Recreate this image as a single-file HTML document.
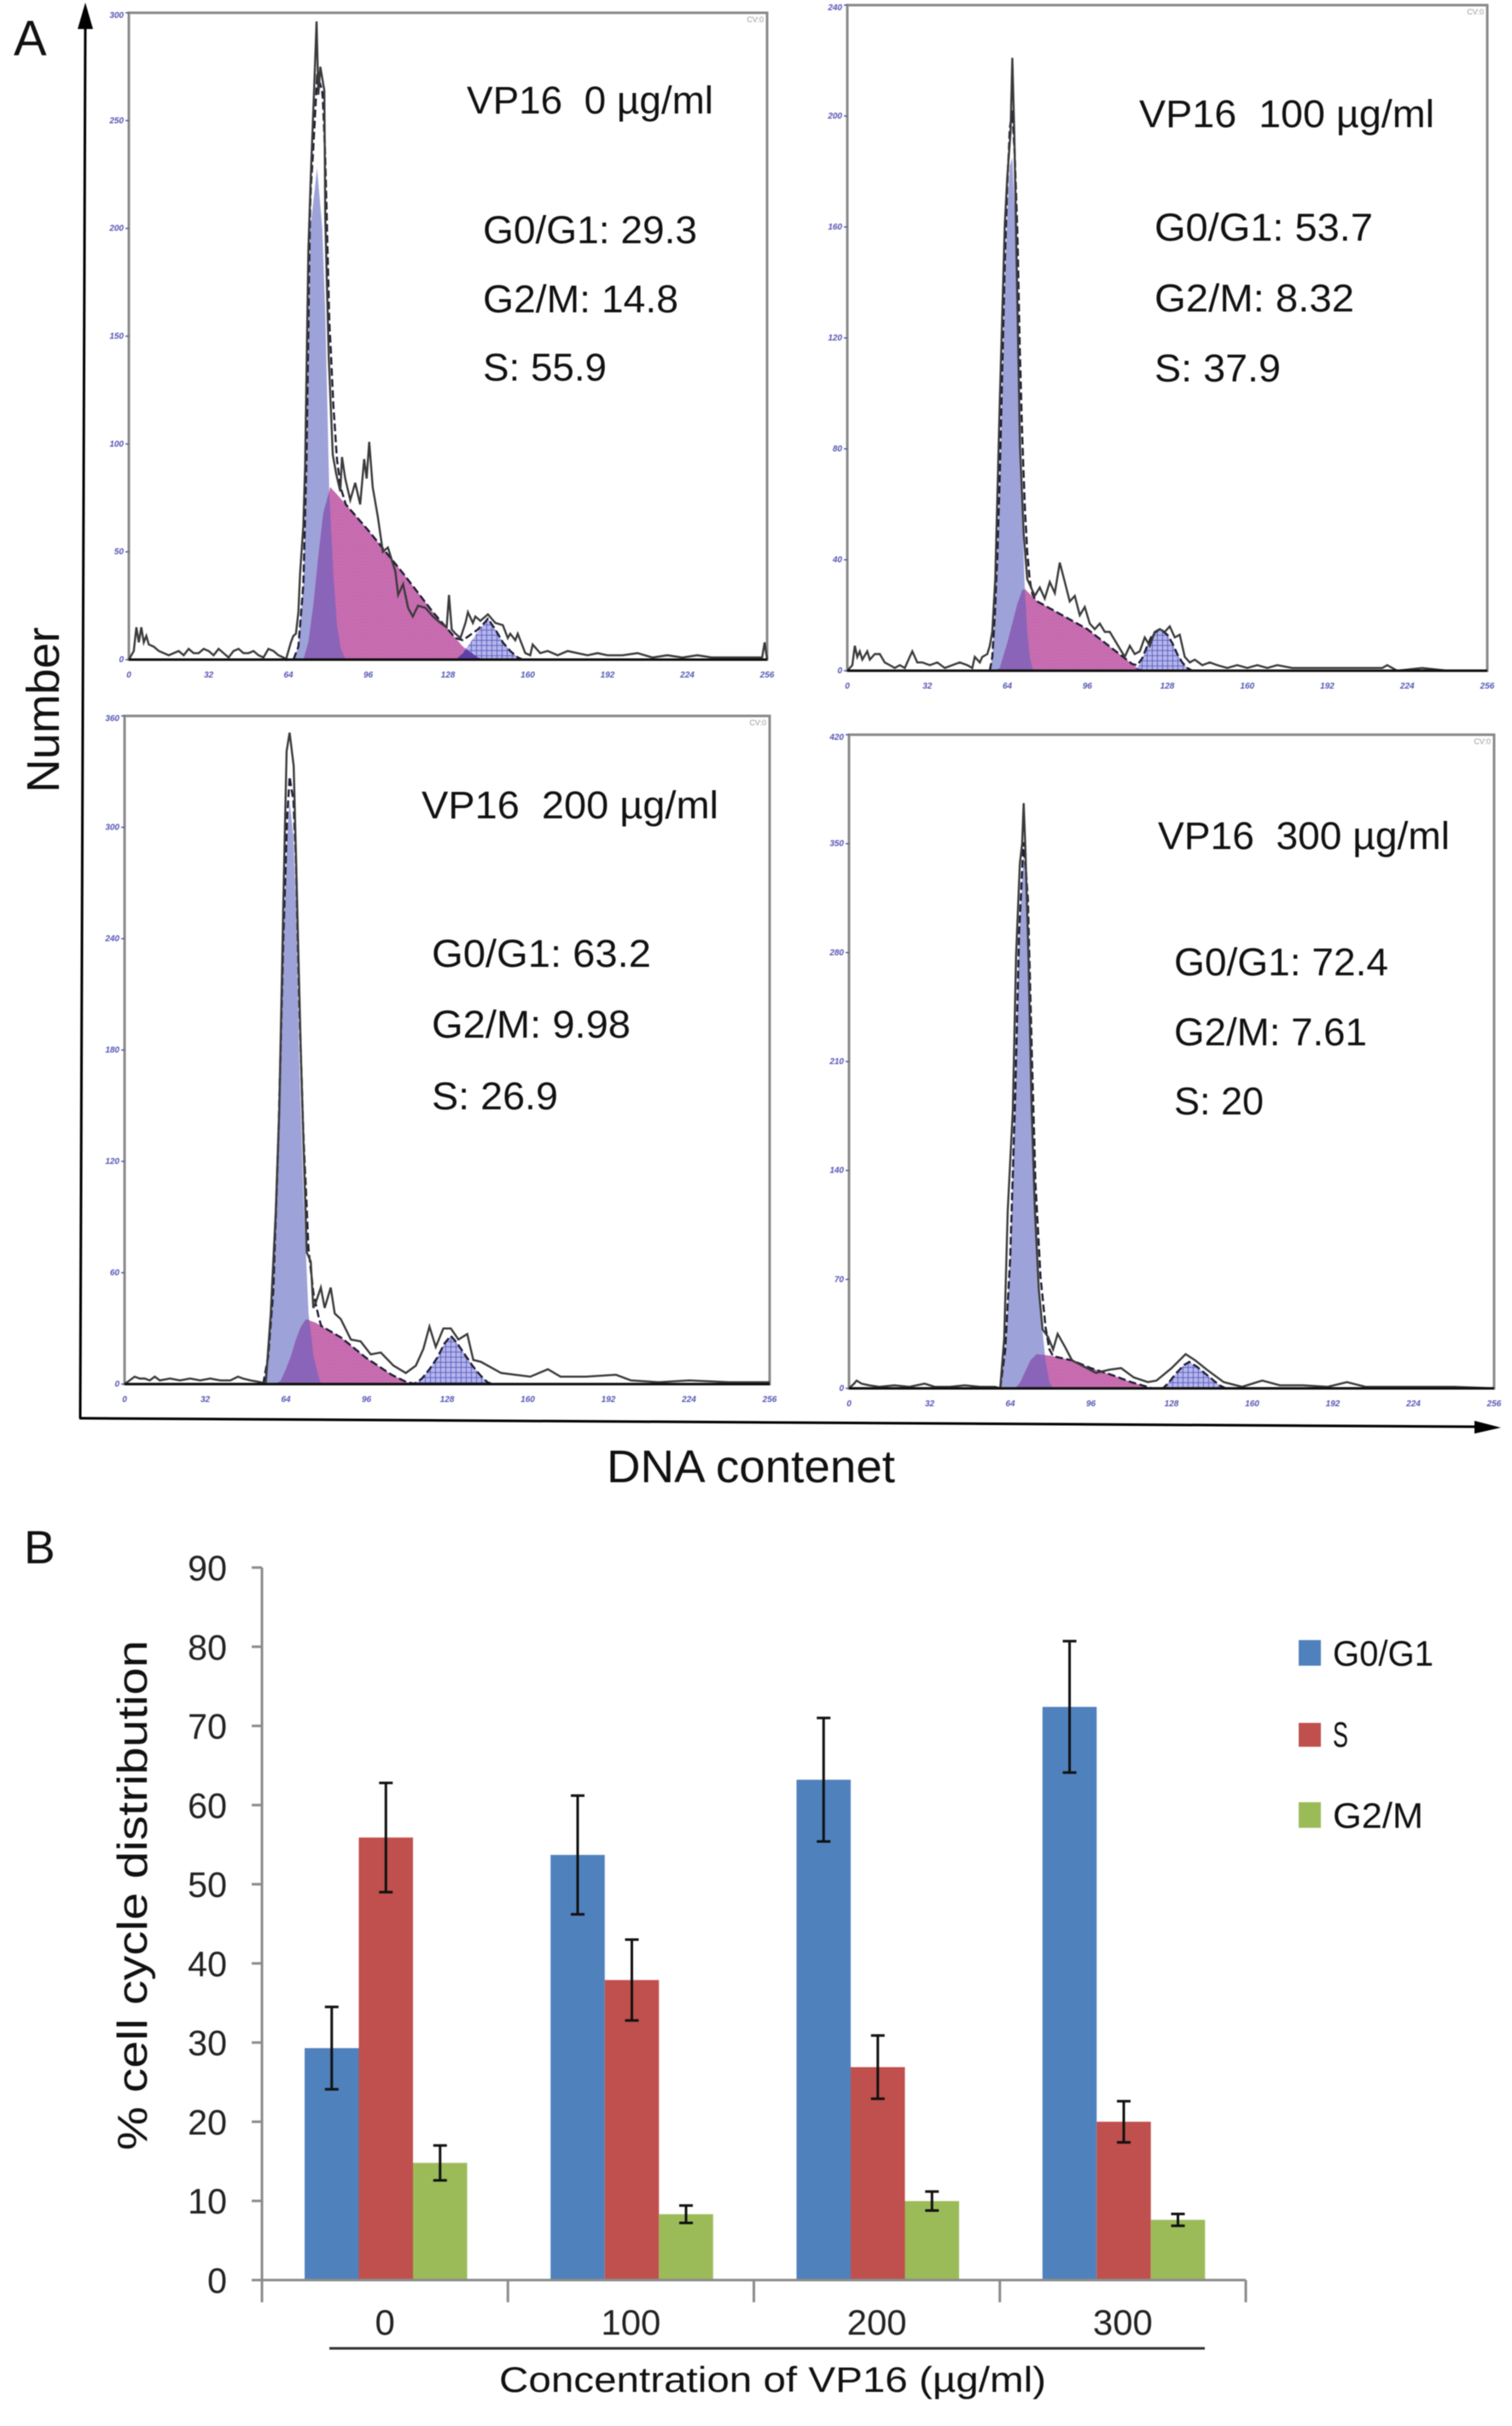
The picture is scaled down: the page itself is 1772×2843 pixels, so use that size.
<!DOCTYPE html>
<html lang="en">
<head>
<meta charset="utf-8">
<title>VP16 cell cycle distribution</title>
<style>
html,body{margin:0;padding:0;background:#fff;width:1772px;height:2843px;overflow:hidden}
svg{display:block;filter:blur(0.6px)}
text{font-family:"Liberation Sans",sans-serif;fill:#111}
</style>
</head>
<body>
<svg id="figure" xmlns="http://www.w3.org/2000/svg" width="1772" height="2843" viewBox="0 0 1772 2843">
<defs>
<pattern id="hatch-s" width="4" height="4" patternUnits="userSpaceOnUse"><rect width="4" height="4" fill="#cc72b4"/><path d="M0 4L4 0" stroke="#bd5fa6" stroke-width="1"/></pattern>
<pattern id="hatch-g2" width="6" height="6" patternUnits="userSpaceOnUse"><rect width="6" height="6" fill="#b4b6ec"/><path d="M0 0H6M0 0V6" stroke="#4f4fb8" stroke-width="1.6"/></pattern>
</defs>
<rect width="1772" height="2843" fill="#fff"/>

<text x="16" y="65" font-size="58">A</text>
<text x="28" y="1832" font-size="55">B</text>

<g>
<line x1="100" y1="20" x2="94" y2="1662" stroke="#000" stroke-width="3"/>
<polygon points="100,3 91,34 109,34" fill="#000"/>
<line x1="93" y1="1662" x2="1735" y2="1672" stroke="#000" stroke-width="3"/>
<polygon points="1759,1673 1728,1665 1728,1680" fill="#000"/>
<text transform="translate(69 929) rotate(-90)" font-size="54" textLength="194" lengthAdjust="spacingAndGlyphs">Number</text>
<text x="711" y="1737" font-size="54" textLength="338" lengthAdjust="spacingAndGlyphs">DNA contenet</text>
</g>

<g id="histograms"></g>

<g>
<text x="547" y="133" font-size="45" xml:space="preserve" textLength="289" lengthAdjust="spacingAndGlyphs">VP16  0 µg/ml</text>
<text x="566" y="285" font-size="45" textLength="251" lengthAdjust="spacingAndGlyphs">G0/G1: 29.3</text>
<text x="566" y="366" font-size="45" textLength="229" lengthAdjust="spacingAndGlyphs">G2/M: 14.8</text>
<text x="566" y="446" font-size="45" textLength="145" lengthAdjust="spacingAndGlyphs">S: 55.9</text>
</g>
<g>
<text x="1335" y="149" font-size="45" xml:space="preserve" textLength="346" lengthAdjust="spacingAndGlyphs">VP16  100 µg/ml</text>
<text x="1353" y="282" font-size="45" textLength="256" lengthAdjust="spacingAndGlyphs">G0/G1: 53.7</text>
<text x="1353" y="365" font-size="45" textLength="234" lengthAdjust="spacingAndGlyphs">G2/M: 8.32</text>
<text x="1353" y="447" font-size="45" textLength="148" lengthAdjust="spacingAndGlyphs">S: 37.9</text>
</g>
<g>
<text x="494" y="959" font-size="45" xml:space="preserve" textLength="348" lengthAdjust="spacingAndGlyphs">VP16  200 µg/ml</text>
<text x="506" y="1133" font-size="45" textLength="257" lengthAdjust="spacingAndGlyphs">G0/G1: 63.2</text>
<text x="506" y="1216" font-size="45" textLength="233" lengthAdjust="spacingAndGlyphs">G2/M: 9.98</text>
<text x="506" y="1300" font-size="45" textLength="148" lengthAdjust="spacingAndGlyphs">S: 26.9</text>
</g>
<g>
<text x="1357" y="995" font-size="45" xml:space="preserve" textLength="342" lengthAdjust="spacingAndGlyphs">VP16  300 µg/ml</text>
<text x="1376" y="1143" font-size="45" textLength="251" lengthAdjust="spacingAndGlyphs">G0/G1: 72.4</text>
<text x="1376" y="1225" font-size="45" textLength="226" lengthAdjust="spacingAndGlyphs">G2/M: 7.61</text>
<text x="1376" y="1306" font-size="45" textLength="105" lengthAdjust="spacingAndGlyphs">S: 20</text>
</g>

<g id="bar-chart"></g>

<text transform="translate(172 2520) rotate(-90)" font-size="49" fill="#222" textLength="598" lengthAdjust="spacingAndGlyphs">% cell cycle distribution</text>
<line x1="386" y1="2752" x2="1412" y2="2752" stroke="#333" stroke-width="3"/>
<text x="585" y="2803" font-size="42" textLength="641" lengthAdjust="spacingAndGlyphs">Concentration of VP16 (µg/ml)</text>

<g>
<rect x="1522" y="1922" width="26" height="30" fill="#4f81bd"/>
<text x="1562" y="1952" font-size="42" fill="#333" textLength="118" lengthAdjust="spacingAndGlyphs">G0/G1</text>
<rect x="1522" y="2019" width="26" height="28" fill="#c0504d"/>
<text x="1562" y="2047" font-size="42" fill="#333" textLength="18" lengthAdjust="spacingAndGlyphs">S</text>
<rect x="1522" y="2112" width="26" height="30" fill="#9bbb59"/>
<text x="1562" y="2142" font-size="42" fill="#333" textLength="106" lengthAdjust="spacingAndGlyphs">G2/M</text>
</g>
</svg>

<script>
// ---------- Histogram data: [DNA channel, cell count] ----------
const histXTicks = [0, 32, 64, 96, 128, 160, 192, 224, 256];

const p1YTicks = [0, 50, 100, 150, 200, 250, 300];
const p1Hist = [[0,0],[2,4],[3,15],[4,8],[5,15],[6,8],[7,11],[8,7],[10,6],[12,4],[14,3],[16,2],[18,3],[20,4],[22,2],[24,5],[26,3],[28,3],[30,5],[32,4],[34,2],[36,5],[38,3],[40,1],[42,4],[44,5],[46,3],[48,3],[50,4],[52,2],[54,1],[56,5],[58,4],[60,2],[62,1],[63,0],[65,8],[66,11],[67,12],[68,22],[68.7,40],[70,62],[70.7,90],[72,190],[73,225],[74.3,264],[75.3,296],[76,262],[76.8,275],[78.4,264],[78.8,205],[80.2,140],[81.8,95],[83.2,86],[84.8,78],[85.5,94],[86.8,84],[88.8,74],[90.8,82],[92.8,72],[94.4,93],[95.4,84],[96.4,101],[97.8,80],[99.9,66],[101.9,50],[103.9,52],[106.9,41],[108,30],[110,35],[112,24],[113.9,20],[116,25],[119,24],[122,20],[125,17],[127.5,15],[128.4,30],[129.5,14],[131,12],[133,10],[135,17],[136,22],[138,17],[139,20],[141,18],[144,21],[147,17],[150,16],[152,10],[153,12],[155,9],[156,12],[158,6],[159,3],[161,2],[162,7],[165,3],[168,4],[172,2],[176,4],[180,3],[184,2],[188,3],[192,2],[198,2],[204,3],[210,1],[216,2],[222,1],[228,2],[234,1],[240,1],[246,1],[252,1],[254,1],[255,8],[256,0]];
const p1G1 = [[66,0],[68,6],[70,35],[71.3,90],[72.3,170],[72.8,200],[75.5,228],[77.6,200],[78.8,161],[80.4,78],[82,40],[83.5,16],[85,5],[87,0]];
const p1S = [[70,0],[72,8],[74,25],[76,48],[78,68],[80.8,80],[84,76],[96,60],[110,40],[122,22],[134,6],[140,1],[143,0]];
const p1G2 = [[131,0],[134,3],[137,8],[140,13],[144,19],[147,14],[150,8],[153,4],[156,1],[158,0]];

const p2YTicks = [0, 40, 80, 120, 160, 200, 240];
const p2Hist = [[0,0],[2,2],[3,9],[4,5],[5,7],[6,4],[8,7],[9,4],[11,6],[13,6],[15,3],[17,2],[19,1],[21,2],[23,1],[25,5],[26,7],[28,3],[30,3],[33,2],[36,3],[39,1],[42,2],[45,3],[48,2],[50,1],[51,5],[53,3],[54,5],[56,6],[57,9],[58,14],[59.2,33],[61,97],[63,161],[64,178],[65.3,194],[66,221],[66.8,194],[67.8,145],[69.1,81],[70.6,49],[72,33],[73,31],[75,27],[77,30],[79,26],[81,32],[83,28],[85,39],[87,32],[89,25],[91,27],[93,20],[95,23],[97,17],[99,15],[101,17],[103,14],[105,14],[107,11],[109,8],[111,5],[113,9],[115,6],[117,7],[119,12],[121,9],[123,14],[125,15],[127,14],[129,16],[131,12],[133,13],[135,5],[137,3],[139,4],[142,2],[145,3],[148,2],[152,1],[156,2],[160,1],[164,2],[168,1],[172,2],[178,1],[184,1],[190,1],[200,1],[214,1],[216,2],[220,0],[230,1],[240,0],[256,0]];
const p2G1 = [[57,0],[58,5],[59,20],[60,40],[61,70],[62,105],[63,140],[64,165],[65,182],[66,185],[67,165],[68,135],[69,90],[70,55],[71,30],[72,14],[73,5],[74,1],[75,0]];
const p2S = [[59,0],[61,1],[62,4],[64,10],[66,17],[68,24],[70,29],[71,29.5],[76,25],[86,20],[96,15],[106,8],[116,1],[120,0]];
const p2G2 = [[114,0],[116,1],[118,4],[120,9],[122,13],[125,15],[128,13],[130,10],[132,6],[134,3],[136,1],[138,0]];

const p3YTicks = [0, 60, 120, 180, 240, 300, 360];
const p3Hist = [[0,0],[2,2],[4,4],[6,3],[8,3],[10,2],[12,4],[14,2],[18,3],[22,2],[26,3],[30,2],[34,3],[38,2],[42,2],[45,4],[47,3],[50,2],[54,1],[56,0],[58,38],[60,93],[61.4,148],[63,258],[64.3,341],[65.5,351],[67.1,333],[68,286],[70,176],[72.3,71],[73.9,66],[74.9,41],[75.9,44],[77.9,52],[79.4,41],[81.8,52],[83.4,38],[85.8,35],[89.8,24],[93.7,23],[97.7,16],[101.7,17],[106.7,10],[111.6,6],[115.6,10],[118.6,19],[121,31],[123.5,20],[126.5,30],[129.5,30],[132.5,24],[136,27],[138.4,13],[141.4,12],[145.4,9],[149.4,6],[155,5],[161,4],[168,8],[173,4],[183,4],[195,5],[201,2],[212,1],[224,2],[240,1],[256,1]];
const p3G1 = [[55,0],[57,15],[59,50],[61,130],[63,235],[64.5,295],[65.5,314],[67,295],[68,258],[69.3,176],[71,100],[73,38],[75,15],[77,4],[78,0]];
const p3S = [[60,0],[62,2],[64,8],[66,15],[68,24],[70,31],[72,35],[76,33],[86,25],[96,14],[106,5],[112,1],[116,0]];
const p3G2 = [[115,0],[118,3],[121,8],[124,14],[127,22],[129.5,26],[132,22],[135,16],[138,10],[141,5],[144,1],[146,0]];

const p4YTicks = [0, 70, 140, 210, 280, 350, 420];
const p4Hist = [[0,0],[2,3],[3,5],[5,3],[8,2],[12,1],[18,2],[24,1],[30,3],[34,1],[40,1],[46,2],[52,1],[58,1],[60,0],[61.6,32],[63,114],[65,179],[66.3,278],[67.8,337],[68.7,350],[69.3,376],[70,347],[71.2,278],[72.5,179],[73.8,114],[75.3,64],[76.8,38],[79,33],[81,25],[82.8,35],[85.6,27],[88.5,18],[92,15],[98,10],[103.5,12],[108,13],[113,7],[118.6,4],[122,5],[128,13],[133.6,22],[137.4,18],[142,12],[148.7,4],[156,1],[164,5],[171,2],[180,2],[190,1],[197.6,4],[205,1],[220,1],[240,1],[256,0]];
const p4G1 = [[60,0],[62,25],[64,85],[66,190],[67.5,290],[69.3,344],[71,300],[72.5,200],[74,110],[76,50],[78,18],[79.5,4],[81,0]];
const p4S = [[66,0],[68,4],[70,11],[72,18],[74.4,22],[80,21],[88.5,18],[96,13],[104.5,8.5],[112,4],[120.5,0]];
const p4G2 = [[124.6,0],[127,4],[130,10],[133,15],[135,17],[138,14],[141,10],[144,6],[147,2],[149.6,0]];

// ---------- Bar chart data ----------
const barCategories = ["0", "100", "200", "300"];
const barYTicks = [0, 10, 20, 30, 40, 50, 60, 70, 80, 90];
const g0g1Values = [29.3, 53.7, 63.2, 72.4];
const sValues = [55.9, 37.9, 26.9, 20];
const g2mValues = [14.8, 8.32, 9.98, 7.61];
const g0g1Err = [5.2, 7.5, 7.8, 8.3];
const sErr = [6.9, 5.1, 4, 2.6];
const g2mErr = [2.2, 1.1, 1.2, 0.75];

// ---------- Drawing ----------
const NS = 'http://www.w3.org/2000/svg';
function make(tag, attrs, parent, text) {
  const el = document.createElementNS(NS, tag);
  for (const k in attrs) el.setAttribute(k, attrs[k]);
  if (text !== undefined) el.textContent = text;
  parent.appendChild(el);
  return el;
}
function valueAt(curve, ch) {
  if (ch <= curve[0][0] || ch >= curve[curve.length - 1][0]) return 0;
  for (let i = 1; i < curve.length; i++) {
    if (ch <= curve[i][0]) {
      const a = curve[i - 1], b = curve[i];
      return a[1] + (b[1] - a[1]) * (ch - a[0]) / (b[0] - a[0]);
    }
  }
  return 0;
}
function polyFromCurve(curve, fx, fy) {
  if (!curve.length) return '';
  const pts = [[curve[0][0], 0]].concat(curve, [[curve[curve.length - 1][0], 0]]);
  return pts.map(p => fx(p[0]).toFixed(1) + ',' + fy(p[1]).toFixed(1)).join(' ');
}
function sampled(fn, from, to) {
  const out = [];
  for (let c = from; c <= to; c += 0.25) out.push([c, fn(c)]);
  return out;
}

function drawPanel(id, box, yMax, yTicks, hist, g1, s, g2) {
  const root = document.getElementById('histograms');
  const g = make('g', {}, root);
  
  
  const fx = ch => box.left + (box.right - box.left) * ch / 256;
  const fy = v => box.base - (box.base - box.top) * v / yMax;

  const frame = make('rect', {x: box.left, y: box.top, width: box.right - box.left, height: box.base - box.top, fill: '#fff', stroke: '#8a8a8a', 'stroke-width': 3}, g);
  
  

  const g1Poly = make('polygon', {points: polyFromCurve(g1, fx, fy), fill: '#9da3d8'}, g);
  
  

  const sPoly = make('polygon', {points: polyFromCurve(s, fx, fy), fill: 'url(#hatch-s)'}, g);
  
  

  const lap1 = sampled(c => Math.min(valueAt(g1, c), valueAt(s, c)), s[0][0], g1[g1.length - 1][0]);
  const lap1Poly = make('polygon', {points: polyFromCurve(lap1, fx, fy), fill: '#8a64b8'}, g);
  
  

  const g2Poly = make('polygon', {points: polyFromCurve(g2, fx, fy), fill: 'url(#hatch-g2)'}, g);
  
  

  const lap2 = sampled(c => Math.min(valueAt(g2, c), valueAt(s, c)), g2[0][0], s[s.length - 1][0]);
  const lap2Poly = make('polygon', {points: polyFromCurve(lap2, fx, fy), fill: '#5f3fa8'}, g);
  
  

  const fit = sampled(c => valueAt(g1, c) + valueAt(s, c) + valueAt(g2, c), g1[0][0], g2[g2.length - 1][0]);
  const fitLine = make('polyline', {points: fit.map(p => fx(p[0]).toFixed(1) + ',' + fy(p[1]).toFixed(1)).join(' '), fill: 'none', stroke: '#1d1d33', 'stroke-width': 2.4, 'stroke-dasharray': '9 4'}, g);
  
  

  const histLine = make('polyline', {points: hist.map(p => fx(p[0]).toFixed(1) + ',' + fy(p[1]).toFixed(1)).join(' '), fill: 'none', stroke: '#3a3a3a', 'stroke-width': 2.4}, g);
  
  

  const baseline = make('line', {x1: fx(0), x2: fx(256), y1: fy(0), y2: fy(0), stroke: '#111', 'stroke-width': 3}, g);
  
  

  const cv = make('text', {x: box.right - 4, y: box.top + 11, 'text-anchor': 'end', 'font-size': 9, style: 'fill:#999'}, g, 'CV:0');
  
  

  yTicks.forEach(t => {
    const tick = make('line', {x1: box.left - 4, x2: box.left, y1: fy(t), y2: fy(t), stroke: '#5555aa', 'stroke-width': 1.5}, g);
    
    
    const lab = make('text', {x: box.left - 6, y: Math.max(fy(t) + 3, box.top + 6), 'text-anchor': 'end', 'font-size': 10, 'font-style': 'italic', 'font-weight': 'bold', style: 'fill:#5555b5'}, g, String(t));
    
    
  });
  histXTicks.forEach(t => {
    const lab = make('text', {x: fx(t), y: box.base + 21, 'text-anchor': 'middle', 'font-size': 10, 'font-style': 'italic', 'font-weight': 'bold', style: 'fill:#5555b5'}, g, String(t));
    
    
  });
}

drawPanel('panel-1', {left: 151, right: 899, top: 15, base: 773}, 300, p1YTicks, p1Hist, p1G1, p1S, p1G2);
drawPanel('panel-2', {left: 993, right: 1743, top: 6, base: 786}, 240, p2YTicks, p2Hist, p2G1, p2S, p2G2);
drawPanel('panel-3', {left: 146, right: 902, top: 839, base: 1622}, 360, p3YTicks, p3Hist, p3G1, p3S, p3G2);
drawPanel('panel-4', {left: 995, right: 1751, top: 861, base: 1627}, 420, p4YTicks, p4Hist, p4G1, p4S, p4G2);

(function drawBars() {
  const root = document.getElementById('bar-chart');
  const left = 307, right = 1460, y0 = 2672, y90 = 1837;
  const bandW = (right - left) / barCategories.length;
  const barW = 63.5, pad = 50;
  const fy = v => y0 - (y0 - y90) * v / 90;
  const fx = (cat, s) => left + cat * bandW + pad + s * barW;

  const seriesNames = ['g0g1', 's', 'g2m'];
  const seriesValues = [g0g1Values, sValues, g2mValues];
  const seriesErrs = [g0g1Err, sErr, g2mErr];
  const seriesColors = ['#4f81bd', '#c0504d', '#9bbb59'];

  seriesValues.forEach((vals, s) => {
    vals.forEach((v, c) => {
      const bar = make('rect', {x: fx(c, s), y: fy(v), width: barW, height: y0 - fy(v), fill: seriesColors[s]}, root);
      
      
    });
  });
  seriesValues.forEach((vals, s) => {
    vals.forEach((v, c) => {
      const cx = fx(c, s) + barW / 2;
      const hi = fy(v + seriesErrs[s][c]), lo = fy(v - seriesErrs[s][c]);
      const err = make('path', {d: 'M' + cx + ' ' + hi + 'V' + lo + 'M' + (cx - 8) + ' ' + hi + 'H' + (cx + 8) + 'M' + (cx - 8) + ' ' + lo + 'H' + (cx + 8), fill: 'none', stroke: '#111', 'stroke-width': 3}, root);
      
      
    });
  });

  const yAxis = make('line', {x1: left, x2: left, y1: y90, y2: y0 + 26, stroke: '#8c8c8c', 'stroke-width': 3}, root);
  
  
  const xAxis = make('line', {x1: left - 12, x2: right, y1: y0, y2: y0, stroke: '#8c8c8c', 'stroke-width': 3}, root);
  
  

  barYTicks.forEach(t => {
    const tick = make('line', {x1: left - 12, x2: left, y1: fy(t), y2: fy(t), stroke: '#8c8c8c', 'stroke-width': 3}, root);
    
    
    const txt = String(t);
    const lab = make('text', {x: 266, y: fy(t) + 15, 'text-anchor': 'end', 'font-size': 42, textLength: 23 * txt.length, lengthAdjust: 'spacingAndGlyphs', style: 'fill:#222'}, root, txt);
    
    
  });
  for (let i = 1; i <= barCategories.length; i++) {
    const x = left + i * bandW;
    const tick = make('line', {x1: x, x2: x, y1: y0, y2: y0 + 26, stroke: '#8c8c8c', 'stroke-width': 3}, root);
    
    
  }
  barCategories.forEach((c, i) => {
    const lab = make('text', {x: left + (i + 0.5) * bandW, y: 2736, 'text-anchor': 'middle', 'font-size': 42, textLength: 23.3 * c.length, lengthAdjust: 'spacingAndGlyphs', style: 'fill:#222'}, root, c);
    
    
  });
})();
</script>
</body>
</html>
